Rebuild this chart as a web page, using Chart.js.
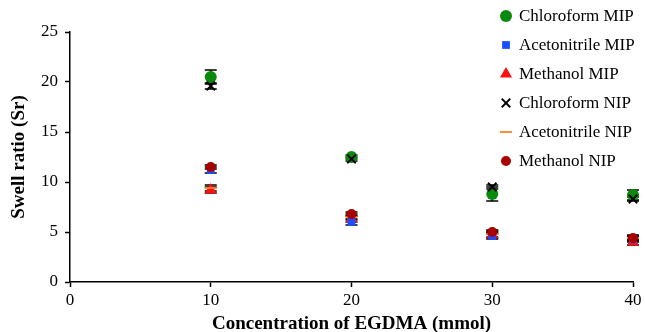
<!DOCTYPE html>
<html>
<head>
<meta charset="utf-8">
<script src="https://cdn.jsdelivr.net/npm/chart.js@4.4.0/dist/chart.umd.min.js"></script>
<style>
  html, body { margin: 0; padding: 0; background: #fff; }
  #wrap { width: 645px; height: 332px; }
</style>
</head>
<body>
<div id="wrap"><canvas id="swellChart" width="645" height="332"></canvas></div>
<script>
// data
const concentrations = [10, 20, 30, 40]
const seriesNames = ['Chloroform MIP', 'Acetonitrile MIP', 'Methanol MIP', 'Chloroform NIP', 'Acetonitrile NIP', 'Methanol NIP']
const chloroformMIP = [20.5, 12.5, 8.8, 8.7]
const acetonitrileMIP = [11.2, 6.0, 4.6, 4.3]
const methanolMIP = [9.2, 6.3, 4.7, 4.0]
const chloroformNIP = [19.6, 12.3, 9.5, 8.3]
const acetonitrileNIP = [9.4, 6.5, 4.8, 4.4]
const methanolNIP = [11.5, 6.8, 5.0, 4.4]
const chloroformMIPErr = [0.7, 0.2, 0.7, 0.5]
const acetonitrileMIPErr = [0.3, 0.3, 0.3, 0.3]
const methanolMIPErr = [0.3, 0.3, 0.3, 0.3]
const chloroformNIPErr = [0.3, 0.2, 0.2, 0.2]
const acetonitrileNIPErr = [0.3, 0.3, 0.3, 0.3]
const methanolNIPErr = [0.2, 0.2, 0.2, 0.2]
const yTicks = [0, 5, 10, 15, 20, 25]
const xTicks = [0, 10, 20, 30, 40]

const FONT = "'Liberation Serif', 'Times New Roman', serif"

const styles = [
  { color: '#0a8a0a', pointStyle: 'circle', radius: 6 },
  { color: '#1a4fff', pointStyle: 'rect', radius: 5.5 },
  { color: '#ff1010', pointStyle: 'triangle', radius: 7 },
  { color: '#000000', pointStyle: 'crossRot', radius: 6 },
  { color: '#ff7f20', pointStyle: 'line', radius: 6 },
  { color: '#a80000', pointStyle: 'circle', radius: 5 },
]
const values = [chloroformMIP, acetonitrileMIP, methanolMIP, chloroformNIP, acetonitrileNIP, methanolNIP]
const errors = [chloroformMIPErr, acetonitrileMIPErr, methanolMIPErr, chloroformNIPErr, acetonitrileNIPErr, methanolNIPErr]

const datasets = seriesNames.map((name, i) => ({
  label: name,
  data: concentrations.map((c, j) => ({ x: c, y: values[i][j] })),
  errors: errors[i],
  backgroundColor: styles[i].color,
  borderColor: styles[i].color,
  borderWidth: styles[i].pointStyle === 'crossRot' || styles[i].pointStyle === 'line' ? 1.8 : 0,
  pointStyle: styles[i].pointStyle,
  pointRadius: styles[i].radius,
  pointHoverRadius: styles[i].radius,
  showLine: false,
  clip: false,
  order: [5, 3, 4, 1, 2, 0][i],
}))

// error bars drawn under the markers
const errorBars = {
  id: 'errorBars',
  beforeDatasetsDraw(chart) {
    const { ctx, scales } = chart
    ctx.save()
    ctx.strokeStyle = '#000'
    ctx.lineWidth = 1.5
    chart.data.datasets.forEach(ds => {
      ds.data.forEach((p, j) => {
        const e = ds.errors[j]
        const x = scales.x.getPixelForValue(p.x)
        const yTop = scales.y.getPixelForValue(p.y + e)
        const yBot = scales.y.getPixelForValue(p.y - e)
        ctx.beginPath()
        ctx.moveTo(x, yTop); ctx.lineTo(x, yBot)
        ctx.moveTo(x - 6, yTop); ctx.lineTo(x + 6, yTop)
        ctx.moveTo(x - 6, yBot); ctx.lineTo(x + 6, yBot)
        ctx.stroke()
      })
    })
    ctx.restore()
  },
}

// legend sits over the top right of the plot
const sideLegend = {
  id: 'sideLegend',
  afterDraw(chart) {
    const { ctx } = chart
    ctx.save()
    ctx.font = '17px ' + FONT
    ctx.textBaseline = 'middle'
    chart.data.datasets.forEach((ds, i) => {
      const y = 16 + i * 29
      const st = styles[i]
      ctx.fillStyle = st.color
      ctx.strokeStyle = st.color
      ctx.lineWidth = ds.borderWidth || 1
      Chart.helpers.drawPoint(ctx, { pointStyle: st.pointStyle, radius: st.radius, borderWidth: ds.borderWidth }, 506, y)
      ctx.fillStyle = '#000'
      ctx.fillText(ds.label, 519, y + 1)
    })
    ctx.restore()
  },
}

const axisGrid = { display: true, drawOnChartArea: false, drawTicks: true, tickLength: 5, tickColor: '#000', tickWidth: 1.5 }

new Chart(document.getElementById('swellChart'), {
  type: 'scatter',
  data: { datasets },
  options: {
    responsive: false,
    animation: false,
    layout: { padding: { top: 32, right: 12, left: 8, bottom: -3 } },
    plugins: {
      legend: { display: false },
      tooltip: { enabled: false },
    },
    scales: {
      x: {
        type: 'linear',
        min: 0,
        max: 40,
        afterBuildTicks: axis => { axis.ticks = xTicks.map(v => ({ value: v })) },
        afterFit: axis => { axis.height = 53 },
        grid: axisGrid,
        border: { color: '#000', width: 1.5 },
        ticks: { color: '#000', font: { family: FONT, size: 17 }, padding: 3, maxRotation: 0 },
        title: { display: true, text: 'Concentration of EGDMA (mmol)', color: '#000', font: { family: FONT, size: 19, weight: 'bold' }, padding: { top: 0, bottom: 0 } },
      },
      y: {
        min: 0,
        max: 25,
        afterBuildTicks: axis => { axis.ticks = yTicks.map(v => ({ value: v })) },
        afterFit: axis => { axis.width = 62 },
        grid: axisGrid,
        border: { color: '#000', width: 1.5 },
        ticks: { color: '#000', font: { family: FONT, size: 17 }, padding: 7 },
        title: { display: true, text: 'Swell ratio (Sr)', color: '#000', font: { family: FONT, size: 19, weight: 'bold' }, padding: { top: 0, bottom: 0 } },
      },
    },
  },
  plugins: [errorBars, sideLegend],
})
</script>
</body>
</html>
